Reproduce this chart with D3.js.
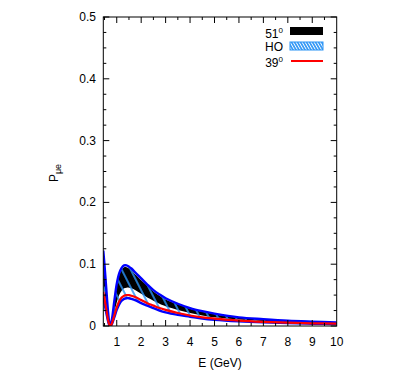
<!DOCTYPE html>
<html>
<head>
<meta charset="utf-8">
<script src="https://cdn.jsdelivr.net/npm/d3@7"></script>
<style>
  body { margin: 0; background: #fff; }
  text { font-family: "Liberation Sans", Arial, sans-serif; }
</style>
</head>
<body>
<svg id="chart" width="403" height="375"></svg>
<script>
// energies (GeV)
const energy = [0.45, 0.5, 0.55, 0.6, 0.65, 0.7, 0.75, 0.8, 0.9, 1.0, 1.1, 1.2, 1.3, 1.4, 1.5, 1.6, 1.8, 2.0, 2.25, 2.5, 2.75, 3, 3.5, 4, 4.5, 5, 6, 7, 8, 9, 10];
// HO band edges
const hoHigh = [0.122, 0.098, 0.072, 0.045, 0.021, 0.005, 0.002, 0.010, 0.040, 0.068, 0.085, 0.094, 0.098, 0.098, 0.096, 0.093, 0.085, 0.077, 0.067, 0.058, 0.051, 0.045, 0.036, 0.029, 0.024, 0.020, 0.014, 0.011, 0.0085, 0.007, 0.0058];
const hoLow = [0.045, 0.036, 0.026, 0.016, 0.007, 0.001, 0.000, 0.003, 0.014, 0.026, 0.035, 0.041, 0.044, 0.045, 0.045, 0.044, 0.041, 0.037, 0.033, 0.029, 0.025, 0.022, 0.018, 0.015, 0.012, 0.010, 0.0075, 0.0058, 0.0046, 0.0037, 0.0031];
// 51 degree band edges
const deg51High = [0.115, 0.093, 0.068, 0.042, 0.019, 0.004, 0.001, 0.009, 0.038, 0.065, 0.082, 0.091, 0.095, 0.095, 0.093, 0.090, 0.082, 0.074, 0.065, 0.056, 0.049, 0.043, 0.035, 0.028, 0.023, 0.019, 0.0135, 0.0105, 0.0082, 0.0067, 0.0056];
const deg51Low = [0.070, 0.056, 0.041, 0.026, 0.012, 0.003, 0.0005, 0.006, 0.022, 0.038, 0.050, 0.057, 0.061, 0.062, 0.062, 0.061, 0.057, 0.052, 0.046, 0.041, 0.036, 0.032, 0.026, 0.021, 0.017, 0.014, 0.0105, 0.0082, 0.0065, 0.0053, 0.0044];
// 39 degree
const deg39 = [0.055, 0.044, 0.032, 0.020, 0.009, 0.002, 0.000, 0.004, 0.017, 0.030, 0.040, 0.046, 0.049, 0.050, 0.050, 0.049, 0.046, 0.042, 0.037, 0.033, 0.029, 0.026, 0.021, 0.017, 0.014, 0.012, 0.0088, 0.0068, 0.0054, 0.0044, 0.0037];

const xTicks = [1, 2, 3, 4, 5, 6, 7, 8, 9, 10];
const yTicks = [0, 0.1, 0.2, 0.3, 0.4, 0.5];

const svg = d3.select("#chart");
const box = { left: 103.3, right: 336.7, top: 17, bottom: 326 };

const x = d3.scaleLinear().domain([0.45, 10]).range([box.left, box.right]);
const y = d3.scaleLinear().domain([0, 0.5]).range([box.bottom, box.top]);

const defs = svg.append("defs");

// hatch for HO band in the plot
defs.append("pattern")
    .attr("id", "hatch")
    .attr("patternUnits", "userSpaceOnUse")
    .attr("width", 8).attr("height", 8)
    .attr("patternTransform", "rotate(-27)")
  .append("line")
    .attr("x1", 2).attr("y1", -1).attr("x2", 2).attr("y2", 9)
    .attr("stroke", "#2a93f5").attr("stroke-width", 1.6);

// denser hatch for the legend swatch
let lp = defs.append("pattern")
    .attr("id", "hatchKey")
    .attr("patternUnits", "userSpaceOnUse")
    .attr("width", 2.6).attr("height", 4)
    .attr("patternTransform", "rotate(-30)");
lp.append("rect").attr("width", 2.6).attr("height", 4).attr("fill", "#2a93f5");
lp.append("line")
    .attr("x1", 1.3).attr("y1", -1).attr("x2", 1.3).attr("y2", 5)
    .attr("stroke", "#fff").attr("stroke-width", 1);

defs.append("clipPath").attr("id", "plotClip")
  .append("rect")
    .attr("x", box.left).attr("y", box.top)
    .attr("width", box.right - box.left).attr("height", box.bottom - box.top);

const rows = energy.map((e, i) => ({
    e: e, hoHi: hoHigh[i], hoLo: hoLow[i], bHi: deg51High[i], bLo: deg51Low[i], r: deg39[i]
}));

const curve = d3.curveCatmullRom;
const band = (lo, hi) => d3.area().curve(curve)
    .x(d => x(d.e)).y0(d => y(d[lo])).y1(d => y(d[hi]));
const line = key => d3.line().curve(curve)
    .x(d => x(d.e)).y(d => y(d[key]));

const plot = svg.append("g").attr("clip-path", "url(#plotClip)");

plot.append("path").datum(rows)
    .attr("d", band("bLo", "bHi")).attr("fill", "#000");
plot.append("path").datum(rows)
    .attr("d", band("hoLo", "hoHi")).attr("fill", "url(#hatch)");

["hoHi", "hoLo"].forEach(k => {
    plot.append("path").datum(rows)
        .attr("d", line(k)).attr("fill", "none")
        .attr("stroke", "#0000ff").attr("stroke-width", 2.4);
});
plot.append("path").datum(rows)
    .attr("d", line("r")).attr("fill", "none")
    .attr("stroke", "#ff0000").attr("stroke-width", 2.2);

// frame and ticks
const axes = svg.append("g").attr("stroke", "#000").attr("stroke-width", 1);
axes.append("rect")
    .attr("x", box.left).attr("y", box.top)
    .attr("width", box.right - box.left).attr("height", box.bottom - box.top)
    .attr("fill", "none");

d3.range(0.5, 10.01, 0.5).forEach(v => {
    if (x(v) < box.left + 1 || v === 10) return;
    let len = Number.isInteger(v) ? 6 : 3;
    axes.append("line").attr("x1", x(v)).attr("x2", x(v))
        .attr("y1", box.bottom).attr("y2", box.bottom - len);
    axes.append("line").attr("x1", x(v)).attr("x2", x(v))
        .attr("y1", box.top).attr("y2", box.top + len);
});
d3.range(0, 0.501, 0.025).forEach(v => {
    let major = Math.abs(v * 10 - Math.round(v * 10)) < 1e-6;
    let len = major ? 6 : 3;
    axes.append("line").attr("x1", box.left).attr("x2", box.left + len)
        .attr("y1", y(v)).attr("y2", y(v));
    axes.append("line").attr("x1", box.right).attr("x2", box.right - len)
        .attr("y1", y(v)).attr("y2", y(v));
});

// tick labels
svg.append("g").selectAll("text").data(xTicks).join("text")
    .attr("x", d => x(d)).attr("y", 346)
    .attr("text-anchor", "middle").attr("font-size", 12)
    .text(d => d);
svg.append("g").selectAll("text").data(yTicks).join("text")
    .attr("x", 96).attr("y", d => y(d) + 4)
    .attr("text-anchor", "end").attr("font-size", 12)
    .text(d => d === 0 ? "0" : d3.format(".1f")(d));

// axis titles
svg.append("text")
    .attr("x", 220).attr("y", 367)
    .attr("text-anchor", "middle").attr("font-size", 12)
    .text("E (GeV)");

let yl = svg.append("text")
    .attr("transform", "translate(57.5,173) rotate(-90)")
    .attr("text-anchor", "middle").attr("font-size", 12);
yl.append("tspan").text("P");
yl.append("tspan").attr("font-size", 9).attr("dy", 3).text("\u03bce");

// legend
const legend = svg.append("g");
const keyX = 290, keyW = 33, textX = 283;
function label(yBase, main, sup) {
    let t = legend.append("text")
        .attr("x", textX).attr("y", yBase)
        .attr("text-anchor", "end").attr("font-size", 12);
    t.append("tspan").text(main);
    if (sup) t.append("tspan").attr("font-size", 8).attr("dy", -5).text(sup);
}
label(38, "51", "0");
legend.append("rect").attr("x", keyX).attr("y", 27)
    .attr("width", keyW).attr("height", 8).attr("fill", "#000");
label(51, "HO");
legend.append("rect").attr("x", keyX).attr("y", 42)
    .attr("width", keyW).attr("height", 8)
    .attr("fill", "url(#hatchKey)").attr("stroke", "#2a93f5").attr("stroke-width", 1);
label(67, "39", "0");
legend.append("line").attr("x1", keyX + 1).attr("x2", keyX + keyW)
    .attr("y1", 61).attr("y2", 61)
    .attr("stroke", "#ff0000").attr("stroke-width", 2);
</script>
</body>
</html>
